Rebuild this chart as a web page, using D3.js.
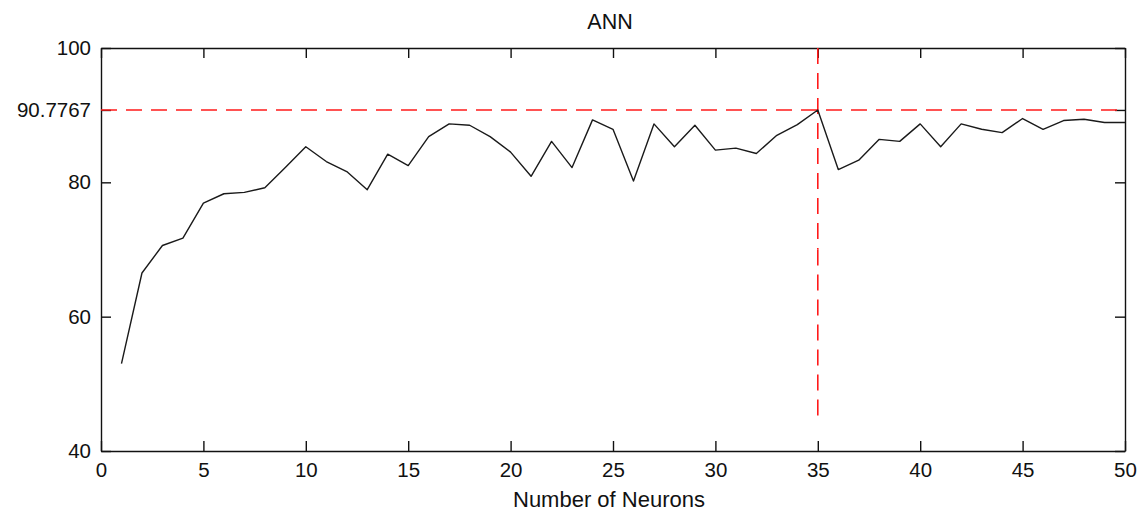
<!DOCTYPE html>
<html>
<head>
<meta charset="utf-8">
<script src="https://cdn.jsdelivr.net/npm/d3@7"></script>
<style>
  html, body { margin: 0; padding: 0; background: #fff; }
  svg { display: block; }
  text { font-family: "Liberation Sans", Arial, sans-serif; fill: #111; }
</style>
</head>
<body>
<svg id="chart" width="1142" height="518"></svg>
<script>
// Accuracy (%) of the ANN for each number of hidden neurons
const neurons = d3.range(1, 51);
const accuracy = [
  53.0, 66.5, 70.6, 71.7, 76.9, 78.3, 78.5, 79.2, 82.2, 85.3,
  83.1, 81.6, 78.9, 84.2, 82.5, 86.8, 88.7, 88.5, 86.8, 84.5,
  80.9, 86.1, 82.2, 89.3, 87.9, 80.2, 88.7, 85.3, 88.5, 84.8,
  85.1, 84.3, 87.0, 88.6, 90.7767, 81.9, 83.3, 86.4, 86.1, 88.7,
  85.3, 88.7, 87.9, 87.4, 89.5, 87.9, 89.2, 89.4, 88.9, 88.9
];

// Best result marker
const bestNeurons = 35;
const bestAccuracy = 90.7767;
const bestDrop = [100, 70, 44.4];   // vertical guide, drawn as two pieces

const xTicks = [0, 5, 10, 15, 20, 25, 30, 35, 40, 45, 50];
const yTicks = [40, 60, 80, 90.7767, 100];
const yTickLabels = ["40", "60", "80", "90.7767", "100"];

const titleText = "ANN";
const xLabelText = "Number of Neurons";

const svg = d3.select("#chart");
const plotLeft = 101, plotRight = 1125, plotTop = 48, plotBottom = 451;

const x = d3.scaleLinear().domain([0, 50]).range([plotLeft, plotRight]);
const y = d3.scaleLinear().domain([40, 100]).range([plotBottom, plotTop]);

// Axes with inward ticks on all four sides
const fontSize = "20.5px";
const bottomAxis = d3.axisBottom(x).tickValues(xTicks).tickSizeInner(-10).tickSizeOuter(0).tickPadding(11).tickFormat(d3.format("d"));
const leftAxis = d3.axisLeft(y).tickValues(yTicks).tickSizeInner(-10).tickSizeOuter(0).tickPadding(10)
  .tickFormat((d, i) => yTickLabels[i]);
const topAxis = d3.axisTop(x).tickValues(xTicks).tickSizeInner(-10).tickSizeOuter(0).tickFormat("");
const rightAxis = d3.axisRight(y).tickValues(yTicks).tickSizeInner(-10).tickSizeOuter(0).tickFormat("");

function styleAxis(g) {
  g.select(".domain").attr("stroke", "#111").attr("stroke-width", 1.4);
  g.selectAll(".tick line").attr("stroke", "#111").attr("stroke-width", 1.4);
  g.selectAll(".tick text").style("font-size", fontSize).attr("fill", "#111")
    .style("font-family", "'Liberation Sans', Arial, sans-serif");
}

svg.append("g").attr("transform", `translate(0,${plotBottom})`).call(bottomAxis).call(styleAxis);
svg.append("g").attr("transform", `translate(${plotLeft},0)`).call(leftAxis).call(styleAxis);
svg.append("g").attr("transform", `translate(0,${plotTop})`).call(topAxis).call(styleAxis);
svg.append("g").attr("transform", `translate(${plotRight},0)`).call(rightAxis).call(styleAxis);

// Red dashed guides at the best result
const guides = svg.append("g")
  .attr("stroke", "#ff1a1a").attr("stroke-width", 1.6).attr("stroke-dasharray", "16,9").attr("fill", "none");
guides.append("line")
  .attr("x1", x(0)).attr("x2", x(50))
  .attr("y1", y(bestAccuracy)).attr("y2", y(bestAccuracy));
for (let i = 0; i < bestDrop.length - 1; i++) {
  guides.append("line")
    .attr("x1", x(bestNeurons)).attr("x2", x(bestNeurons))
    .attr("y1", y(bestDrop[i])).attr("y2", y(bestDrop[i + 1]));
}

// Accuracy curve
const line = d3.line().x((d, i) => x(neurons[i])).y(d => y(d));
svg.append("path")
  .datum(accuracy)
  .attr("d", line)
  .attr("fill", "none")
  .attr("stroke", "#1a1a1a")
  .attr("stroke-width", 1.4)
  .attr("stroke-linejoin", "round");

// Title and axis label
svg.append("text")
  .attr("x", (plotLeft + plotRight) / 2 - 3).attr("y", 29)
  .attr("text-anchor", "middle")
  .style("font-size", "21.5px")
  .text(titleText);

svg.append("text")
  .attr("x", (plotLeft + plotRight) / 2 - 4).attr("y", 507)
  .attr("text-anchor", "middle")
  .style("font-size", "22px")
  .text(xLabelText);
</script>
</body>
</html>
